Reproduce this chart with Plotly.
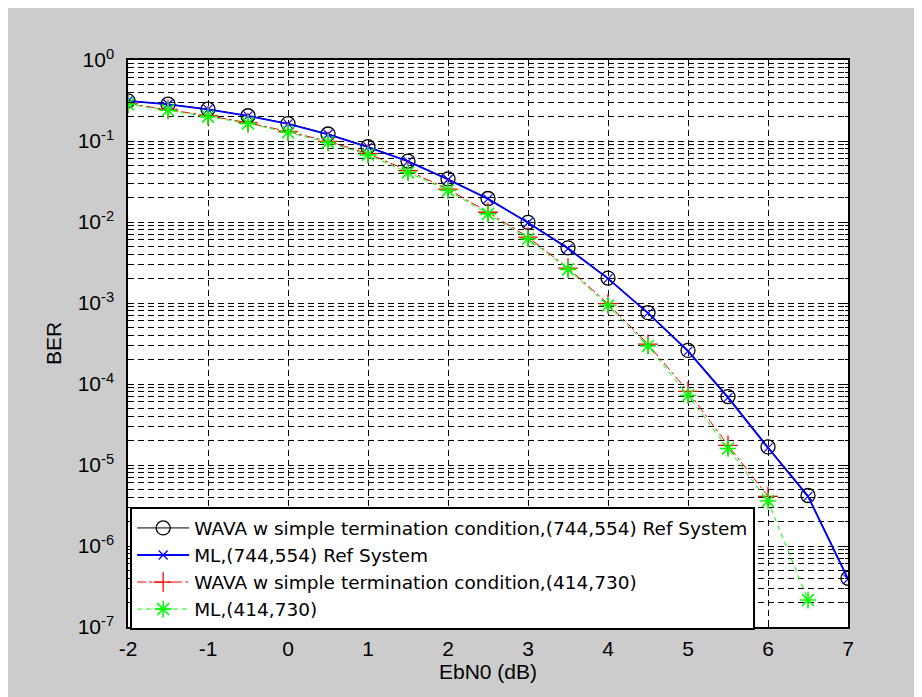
import plotly.graph_objects as go

# ---- data ----
ebn0_ref = [-2, -1.5, -1, -0.5, 0, 0.5, 1, 1.5, 2, 2.5, 3, 3.5, 4, 4.5, 5, 5.5, 6, 6.5, 7]
wava_ref = [0.313, 0.285, 0.247, 0.205, 0.164, 0.122, 0.085, 0.0565, 0.034, 0.0195, 0.0099,
            0.0048, 0.00203, 0.00076, 0.00026, 7.0e-5, 1.67e-5, 4.2e-6, 4.0e-7]
ml_ref = [0.312, 0.284, 0.246, 0.204, 0.163, 0.121, 0.084, 0.056, 0.0335, 0.0193, 0.0098,
          0.0047, 0.00200, 0.00075, 0.000255, 6.8e-5, 1.63e-5, 4.1e-6, 3.9e-7]
ebn0_wava_new = [-2, -1.5, -1, -0.5, 0, 0.5, 1, 1.5, 2, 2.5, 3, 3.5, 4, 4.5, 5, 5.5, 6]
wava_new = [0.29, 0.245, 0.205, 0.168, 0.131, 0.099, 0.07, 0.043, 0.0255, 0.0132, 0.0065,
            0.0027, 0.00098, 0.00031, 8.1e-5, 1.75e-5, 4.1e-6]
ebn0_ml_new = [-2, -1.5, -1, -0.5, 0, 0.5, 1, 1.5, 2, 2.5, 3, 3.5, 4, 4.5, 5, 5.5, 6, 6.5]
ml_new = [0.285, 0.24, 0.2, 0.165, 0.128, 0.096, 0.0675, 0.041, 0.0245, 0.0126, 0.0062,
          0.0026, 0.00093, 0.000295, 7.2e-5, 1.6e-5, 3.6e-6, 2.15e-7]

names = ["WAVA w simple termination condition,(744,554) Ref System",
         "ML,(744,554) Ref System",
         "WAVA w simple termination condition,(414,730)",
         "ML,(414,730)"]

y_tick_vals = [1e-7, 1e-6, 1e-5, 1e-4, 1e-3, 1e-2, 1e-1, 1e0]
y_tick_text = ["10<sup>-7</sup>", "10<sup>-6</sup>", "10<sup>-5</sup>", "10<sup>-4</sup>",
               "10<sup>-3</sup>", "10<sup>-2</sup>", "10<sup>-1</sup>", "10<sup>0</sup>"]
x_tick_vals = [-2, -1, 0, 1, 2, 3, 4, 5, 6, 7]
x_tick_text = ["-2", "-1", "0", "1", "2", "3", "4", "5", "6", "7"]

FONT = "Liberation Sans, Arial, sans-serif"
LEGEND_FONT = "DejaVu Sans, Liberation Sans, sans-serif"
GRAY = "#cccccc"
GRID_DASH = "6px,4px"

fig = go.Figure()
fig.add_trace(go.Scatter(
    x=ebn0_ref, y=wava_ref, name=names[0], mode="lines+markers",
    line=dict(color="black", width=1),
    marker=dict(symbol="circle-open", size=14, color="black", line=dict(width=1.3, color="black"))))
fig.add_trace(go.Scatter(
    x=ebn0_ref, y=ml_ref, name=names[1], mode="lines+markers",
    line=dict(color="#0000ff", width=1.8),
    marker=dict(symbol="x-thin-open", size=9, color="#0000ff", line=dict(width=1.2, color="#0000ff"))))
fig.add_trace(go.Scatter(
    x=ebn0_wava_new, y=wava_new, name=names[2], mode="lines+markers",
    line=dict(color="#ff0000", width=1, dash="dashdot"),
    marker=dict(symbol="cross-thin-open", size=14, color="#ff0000", line=dict(width=1.3, color="#ff0000"))))
fig.add_trace(go.Scatter(
    x=ebn0_ml_new, y=ml_new, name=names[3], mode="lines+markers",
    line=dict(color="#00ff00", width=1, dash="5px,4px"),
    marker=dict(symbol="asterisk-open", size=14, color="#00ff00", line=dict(width=1.6, color="#00ff00"))))

fig.update_layout(
    width=922, height=697,
    margin=dict(l=120, r=82, t=52, b=78),
    paper_bgcolor=GRAY, plot_bgcolor="white",
    font=dict(family=FONT, size=21, color="black"),
    showlegend=True,
    legend=dict(x=0.003, y=-0.006, xanchor="left", yanchor="bottom",
                bgcolor="white", bordercolor="black", borderwidth=2,
                font=dict(family=LEGEND_FONT, size=18.5, color="black"),
                itemwidth=52, tracegroupgap=0),
    xaxis=dict(range=[-2, 7], tickvals=x_tick_vals, ticktext=x_tick_text,
               ticks="inside", ticklen=5,
               tickcolor="black", showline=True, linecolor="black", linewidth=1.5,
               mirror="ticks", showgrid=True, gridcolor="black", gridwidth=1,
               griddash=GRID_DASH, zeroline=False,
               title=dict(text="EbN0 (dB)", standoff=4, font=dict(size=21)),
               tickfont=dict(size=21), ticklabelstandoff=2),
    yaxis=dict(type="log", range=[-7, 0], tickvals=y_tick_vals, ticktext=y_tick_text,
               ticks="inside", ticklen=5, tickcolor="black", showline=True,
               linecolor="black", linewidth=1.5, mirror="ticks", showgrid=True,
               gridcolor="black", gridwidth=1, griddash=GRID_DASH, zeroline=False,
               minor=dict(dtick="D1", showgrid=True, gridcolor="black", gridwidth=1,
                          griddash=GRID_DASH, ticks="inside", ticklen=3, tickcolor="black"),
               title=dict(text="BER", standoff=10, font=dict(size=21)),
               tickfont=dict(size=21), ticklabelstandoff=8),
)

fig.write_html("out.html")
